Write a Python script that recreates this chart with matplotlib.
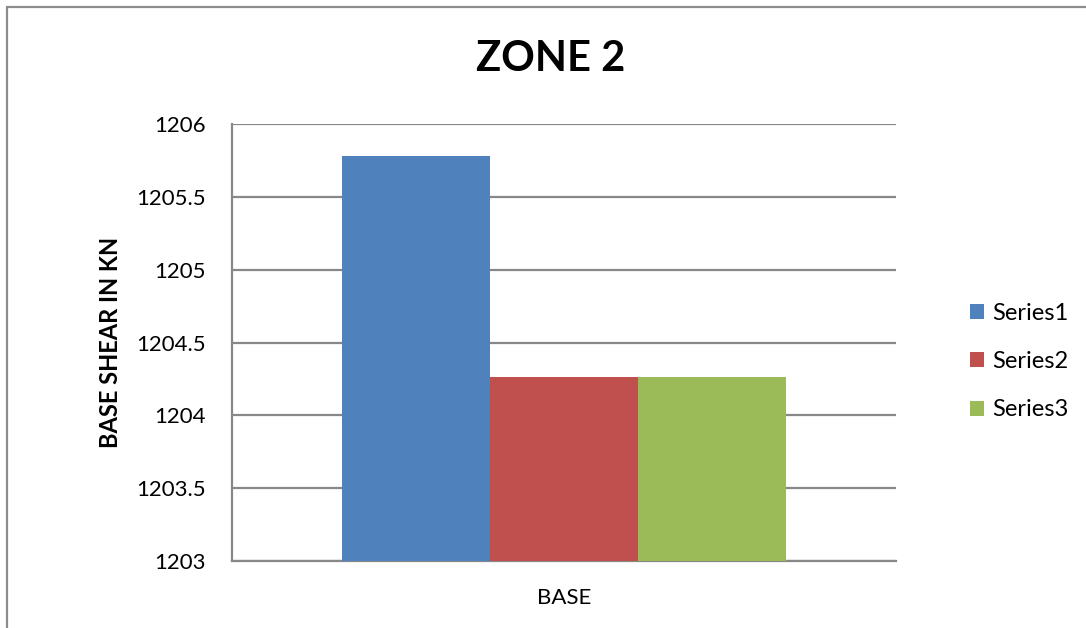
import numpy as np
import matplotlib
matplotlib.use('Agg')
import matplotlib.pyplot as plt
from matplotlib.patches import Rectangle

plt.rcParams['font.family'] = ['Lato', 'DejaVu Sans']

# ---- Data ----
categories = ['BASE']
series_names = ['Series1', 'Series2', 'Series3']
series_values = [[1205.78], [1204.26], [1204.26]]
y_ticks = [1203, 1203.5, 1204, 1204.5, 1205, 1205.5, 1206]
y_tick_labels = ['1203', '1203.5', '1204', '1204.5', '1205', '1205.5', '1206']

COLORS = ['#4F81BD', '#C0504D', '#9BBB59']
GRID = '#888888'

fig = plt.figure(figsize=(10.86, 6.28), dpi=100)
ax = fig.add_axes([0.2136, 0.1072, 0.611, 0.6946])

x = np.arange(len(categories))
width = 0.223
for i, (name, vals) in enumerate(zip(series_names, series_values)):
    ax.bar(x + (i - 1) * width, np.array(vals) - 1203, width, bottom=1203,
           color=COLORS[i], label=name, zorder=3, linewidth=0)

ax.set_xlim(-0.5, 0.5)
ax.set_ylim(1203, 1206)
ax.set_yticks(y_ticks)
ax.set_yticklabels(y_tick_labels)
ax.set_xticks(x)
ax.set_xticklabels(categories)
ax.tick_params(axis='y', length=0, pad=19, labelsize=16)
ax.tick_params(axis='x', length=0, pad=20, labelsize=16)

ax.yaxis.grid(True, color=GRID, lw=1.6, zorder=0)
ax.set_axisbelow(True)
for s in ['top', 'right']:
    ax.spines[s].set_visible(False)
for s in ['left', 'bottom']:
    ax.spines[s].set_color(GRID)
    ax.spines[s].set_linewidth(1.6)

ax.set_ylabel('BASE SHEAR IN KN', fontsize=17, fontweight='bold')
ax.yaxis.set_label_coords(-0.165, 0.5)

fig.text(0.507, 0.906, 'ZONE 2', fontsize=30, fontweight='bold',
         ha='center', va='center')

fig.legend(loc='center left', bbox_to_anchor=(0.893, 0.424), frameon=False,
           fontsize=17, handlelength=0.6, handleheight=0.6,
           handletextpad=0.35, labelspacing=1.15, borderpad=0, borderaxespad=0)

# outer chart frame
fig.patches.append(Rectangle((7 / 1086, -0.05), 1.2, 1 - 7 / 628 + 0.05,
                             transform=fig.transFigure, fill=False,
                             edgecolor='#8c8c8c', lw=1.6))

fig.savefig('out.png', dpi=100)
